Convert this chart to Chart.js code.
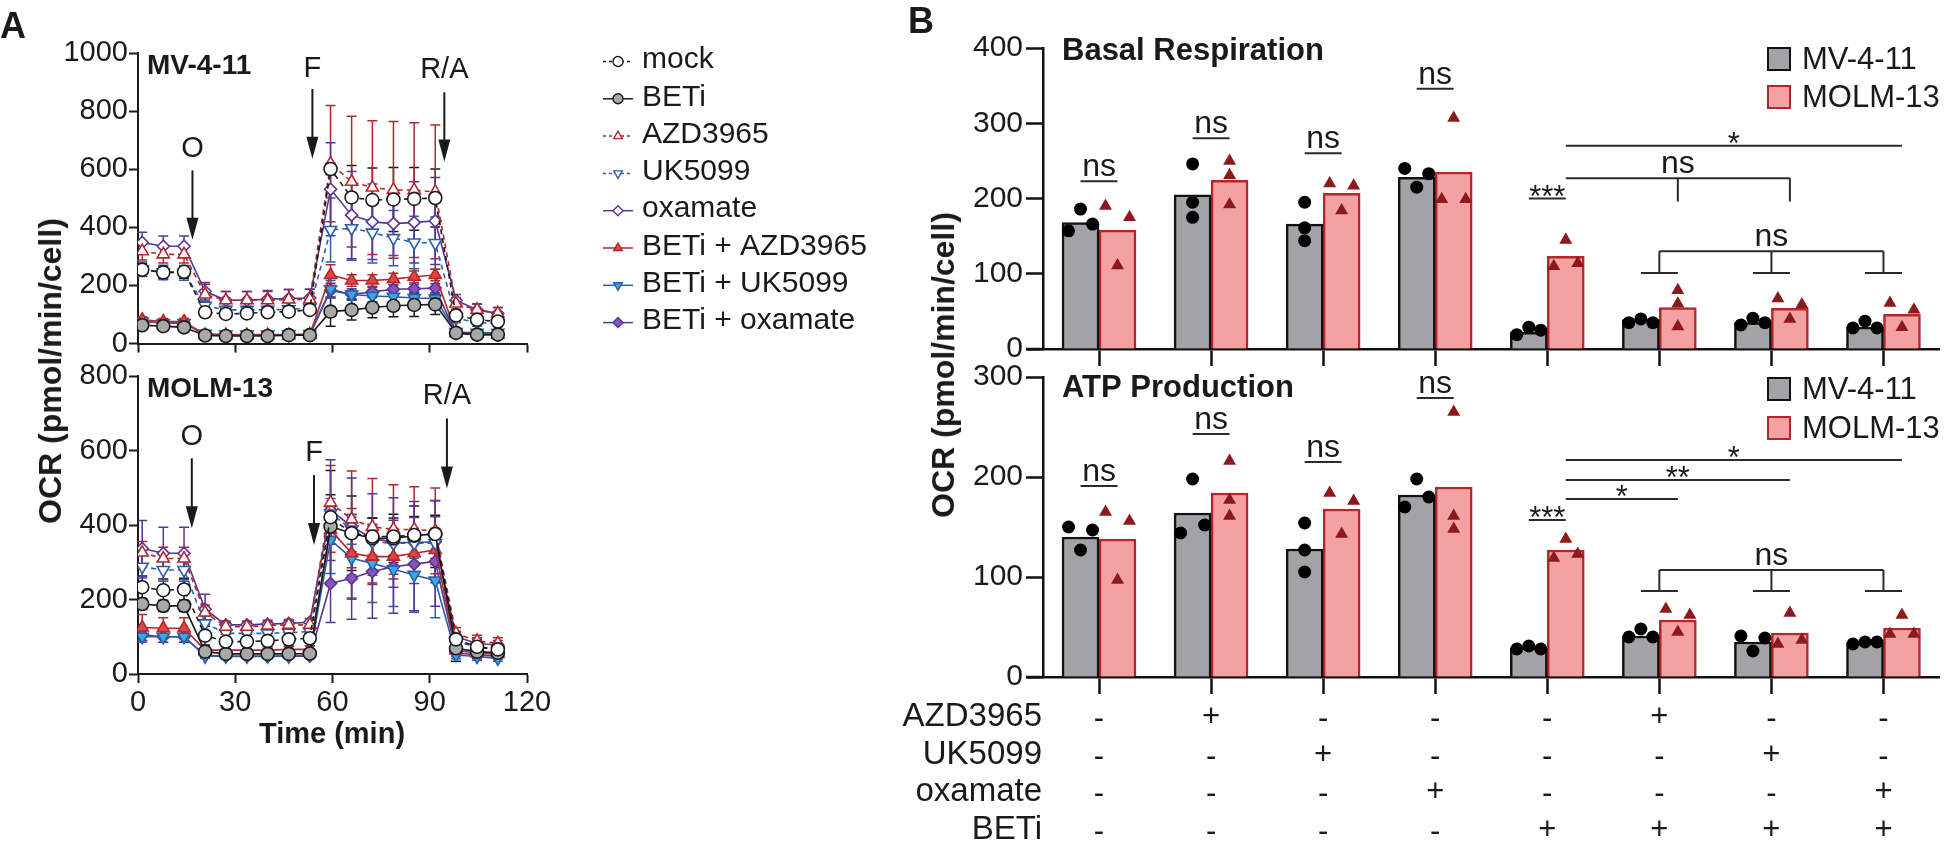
<!DOCTYPE html>
<html>
<head>
<meta charset="utf-8">
<script src="https://cdn.jsdelivr.net/npm/chart.js@4.4.1/dist/chart.umd.min.js"></script>
<style>
  html, body { margin: 0; padding: 0; background: #fff; }
  #page { position: relative; width: 1947px; height: 842px; overflow: hidden;
          font-family: 'Liberation Sans', Arial, Helvetica, sans-serif; color: #1a1a1a; }
  canvas { position: absolute; }
  .lbl { position: absolute; white-space: nowrap; line-height: 1; }
  .rot { transform: translate(-50%, -50%) rotate(-90deg); }
  .mid { transform: translate(-50%, -50%); }
</style>
</head>
<body>
<div id="page">
  <canvas id="a1" width="920" height="362" style="left:0;top:0"></canvas>
  <canvas id="a2" width="600" height="490" style="left:0;top:352px"></canvas>
  <canvas id="b1" width="1067" height="372" style="left:880px;top:0"></canvas>
  <canvas id="b2" width="1067" height="486" style="left:880px;top:356px"></canvas>

  <div class="lbl" style="left:0;top:8px;font-weight:bold;font-size:36px">A</div>
  <div class="lbl" style="left:908px;top:3px;font-weight:bold;font-size:36px">B</div>
  <div class="lbl rot" style="left:50px;top:371px;font-weight:bold;font-size:32px">OCR (pmol/min/cell)</div>
  <div class="lbl rot" style="left:943px;top:365px;font-weight:bold;font-size:32px">OCR (pmol/min/cell)</div>
  <div class="lbl mid" style="left:332px;top:733px;font-weight:bold;font-size:29px">Time (min)</div>
</div>

<script>
const F = "'Liberation Sans', Arial, Helvetica, sans-serif";
Chart.defaults.font.family = F;
Chart.defaults.color = '#1a1a1a';
Chart.defaults.animation = false;
Chart.defaults.responsive = false;
Chart.defaults.plugins.legend.display = false;
Chart.defaults.plugins.tooltip.enabled = false;

// ---- panel A: Seahorse time course (min) ----
const time = [1.3, 7.8, 14.2, 20.7, 27.1, 33.6, 40.0, 46.5, 53.0, 59.4, 65.9, 72.3, 78.8, 85.2, 91.7, 98.1, 104.6, 111.0];

// MV-4-11 mean OCR and error
const mvMock = [254, 245, 247, 108, 102, 104, 108, 110, 116, 601, 503, 494, 496, 498, 501, 97, 82, 76];
const mvMockSd = [22, 22, 22, 12, 10, 10, 10, 10, 10, 20, 110, 110, 110, 108, 100, 18, 15, 15];
const mvBeti = [63, 60, 56, 28, 26, 26, 26, 29, 29, 110, 116, 124, 130, 133, 135, 37, 31, 31];
const mvBetiSd = [12, 12, 12, 6, 6, 6, 6, 6, 6, 50, 35, 35, 38, 40, 35, 10, 10, 10];
const mvAzd = [318, 307, 307, 169, 149, 149, 149, 152, 152, 619, 557, 537, 529, 528, 522, 138, 116, 104];
const mvAzdSd = [30, 30, 30, 35, 30, 30, 30, 35, 35, 200, 225, 230, 235, 232, 230, 20, 20, 20];
const mvUk = [256, 245, 243, 130, 116, 116, 116, 118, 122, 391, 397, 382, 363, 348, 346, 88, 72, 70];
const mvUkSd = [25, 25, 25, 15, 12, 12, 12, 12, 12, 110, 110, 105, 95, 90, 90, 15, 12, 12];
const mvOxa = [348, 335, 335, 180, 149, 149, 153, 155, 157, 531, 442, 419, 413, 417, 422, 149, 116, 104];
const mvOxaSd = [35, 35, 35, 30, 30, 30, 30, 30, 30, 160, 150, 130, 110, 140, 150, 20, 20, 20];
const mvBetiAzd = [82, 76, 76, 29, 29, 29, 29, 29, 31, 236, 217, 217, 222, 230, 236, 37, 34, 31];
const mvBetiAzdSd = [10, 10, 10, 8, 8, 8, 8, 8, 8, 35, 20, 20, 20, 20, 20, 10, 10, 10];
const mvBetiUk = [76, 71, 71, 34, 31, 31, 31, 31, 33, 187, 169, 164, 161, 157, 155, 40, 37, 37];
const mvBetiUkSd = [10, 10, 10, 8, 8, 8, 8, 8, 8, 30, 20, 20, 20, 20, 20, 10, 10, 10];
const mvBetiOxa = [76, 71, 71, 31, 29, 29, 29, 29, 31, 183, 169, 178, 187, 189, 191, 34, 31, 31];
const mvBetiOxaSd = [10, 10, 10, 8, 8, 8, 8, 8, 8, 25, 15, 15, 15, 15, 15, 10, 10, 10];

// MOLM-13 mean OCR and error
const moMock = [233, 225, 227, 103, 87, 87, 89, 93, 96, 421, 378, 369, 369, 373, 376, 93, 73, 66];
const moMockSd = [30, 30, 30, 25, 20, 20, 20, 20, 20, 60, 50, 50, 50, 50, 50, 20, 20, 15];
const moBeti = [188, 183, 183, 60, 54, 54, 54, 54, 55, 396, 378, 364, 364, 371, 376, 69, 60, 57];
const moBetiSd = [15, 15, 15, 10, 8, 8, 8, 8, 8, 150, 100, 55, 65, 80, 90, 35, 15, 10];
const moAzd = [326, 310, 310, 165, 127, 127, 130, 132, 132, 460, 415, 395, 388, 388, 384, 109, 89, 82];
const moAzdSd = [30, 30, 30, 20, 12, 12, 12, 12, 12, 100, 130, 130, 120, 115, 115, 15, 15, 15];
const moUk = [288, 279, 279, 136, 109, 109, 109, 111, 114, 431, 388, 355, 351, 351, 351, 87, 73, 64];
const moUkSd = [30, 30, 30, 20, 12, 12, 12, 12, 12, 40, 40, 40, 40, 40, 40, 15, 15, 15];
const moOxa = [337, 324, 324, 174, 132, 132, 134, 136, 139, 440, 396, 364, 353, 353, 355, 100, 82, 78];
const moOxaSd = [75, 70, 70, 40, 10, 10, 10, 10, 10, 135, 130, 120, 120, 110, 110, 15, 15, 12];
const moBetiAzd = [125, 123, 123, 64, 64, 64, 64, 66, 66, 387, 324, 315, 315, 324, 333, 64, 55, 54];
const moBetiAzdSd = [35, 28, 28, 10, 10, 10, 10, 10, 10, 60, 120, 75, 60, 55, 40, 12, 10, 10];
const moBetiUk = [100, 100, 100, 48, 48, 48, 48, 48, 51, 360, 311, 297, 281, 266, 251, 51, 47, 42];
const moBetiUkSd = [15, 15, 15, 6, 6, 6, 6, 6, 6, 90, 110, 105, 100, 100, 100, 10, 10, 8];
const moBetiOxa = [105, 100, 100, 51, 47, 47, 47, 48, 48, 243, 257, 275, 288, 295, 302, 57, 51, 48];
const moBetiOxaSd = [15, 15, 15, 6, 6, 6, 6, 6, 6, 105, 110, 125, 125, 125, 120, 10, 10, 8];

// injection arrows (x in min, y in OCR units)
const mvInjections = [
  {label: 'O', x: 16.8, top: 596, tip: 357, labelY: 670},
  {label: 'F', x: 53.8, top: 876, tip: 636, labelY: 945},
  {label: 'R/A', x: 94.5, top: 865, tip: 627, labelY: 940}
];
const moInjections = [
  {label: 'O', x: 16.6, top: 579, tip: 391, labelY: 637},
  {label: 'F', x: 54.3, top: 534, tip: 346, labelY: 592},
  {label: 'R/A', x: 95.3, top: 686, tip: 498, labelY: 745}
];

// ---- panel B: per-condition bars and replicates ----
const groups = ['mock', 'AZD3965', 'UK5099', 'oxamate', 'BETi', 'BETi + AZD3965', 'BETi + UK5099', 'BETi + oxamate'];
const treatAzd = ['-', '+', '-', '-', '-', '+', '-', '-'];
const treatUk = ['-', '-', '+', '-', '-', '-', '+', '-'];
const treatOxa = ['-', '-', '-', '+', '-', '-', '-', '+'];
const treatBeti = ['-', '-', '-', '-', '+', '+', '+', '+'];

const basalMv = [168, 205, 166, 228, 22, 39, 35, 29];
const basalMolm = [158, 224, 207, 235, 123, 55, 54, 46];
const basalMvReps = [[157, 186, 166], [246, 195, 175], [195, 161, 144], [240, 215, 233], [19, 29, 25], [35, 40, 35], [32, 41, 35], [28, 37, 28]];
const basalMolmReps = [[190, 111, 175], [250, 231, 192], [220, 184, 217], [199, 307, 199], [110, 145, 114], [78, 60, 30], [67, 40, 59], [61, 29, 52]];

const atpMv = [140, 164, 128, 182, 29, 41, 35, 34];
const atpMolm = [138, 184, 168, 190, 127, 57, 44, 49];
const atpMvReps = [[150, 127, 147], [144, 198, 152], [154, 127, 105], [170, 198, 180], [28, 31, 28], [40, 48, 40], [41, 26, 39], [33, 35, 35]];
const atpMolmReps = [[165, 97, 156], [216, 177, 161], [184, 143, 176], [265, 161, 148], [119, 138, 123], [68, 45, 62], [33, 64, 37], [43, 62, 43]];

// significance: MV-4-11 vs MOLM-13 inside each group
const basalPairText = ['ns', 'ns', 'ns', 'ns', '***'];
const basalPairY = [223, 280, 260, 346, 200];
const atpPairText = ['ns', 'ns', 'ns', 'ns', '***'];
const atpPairY = [191, 243, 215, 279, 157];
// MOLM-13: BETi vs BETi + drug
const basalCompare = [
  {from: 4, to: 6, y: 227, drops: [5, 6], dropTo: 196, text: 'ns'},
  {from: 4, to: 7, y: 270, text: '*'}
];
const atpCompare = [
  {from: 4, to: 5, y: 178, text: '*'},
  {from: 4, to: 6, y: 197, text: '**'},
  {from: 4, to: 7, y: 217, text: '*'}
];
// BETi + drug groups against each other
const basalCombo = {groups: [5, 6, 7], y: 130, dropTo: 101, text: 'ns'};
const atpCombo = {groups: [5, 6, 7], y: 107, dropTo: 86, text: 'ns'};

// ---------------------------------------------------------------
const seriesStyle = [
  {label: 'mock', color: '#1a1a1a', fill: '#ffffff', dash: [5, 4], shape: 'circle', rot: 0},
  {label: 'BETi', color: '#1a1a1a', fill: '#a8a8a8', dash: [], shape: 'circle', rot: 0},
  {label: 'AZD3965', color: '#b3272d', fill: '#ffffff', dash: [5, 4], shape: 'triangle', rot: 0},
  {label: 'UK5099', color: '#2c5ea6', fill: '#ffffff', dash: [5, 4], shape: 'triangle', rot: 180},
  {label: 'oxamate', color: '#5a3592', fill: '#ffffff', dash: [], shape: 'rectRot', rot: 0},
  {label: 'BETi + AZD3965', color: '#b3272d', fill: '#e4443e', dash: [], shape: 'triangle', rot: 0},
  {label: 'BETi + UK5099', color: '#2c5ea6', fill: '#38a8e2', dash: [], shape: 'triangle', rot: 180},
  {label: 'BETi + oxamate', color: '#5a3592', fill: '#8456bd', dash: [], shape: 'rectRot', rot: 0}
];

function lineSet(style, values, sd) {
  return {
    label: style.label,
    data: values.map((v, i) => ({x: time[i], y: v})),
    sd: sd,
    borderColor: style.color,
    borderWidth: 1.6,
    borderDash: style.dash,
    pointStyle: style.shape,
    pointRotation: style.rot,
    pointRadius: style.shape === 'circle' ? 6.5 : (style.shape === 'rectRot' ? 6 : 7),
    pointBackgroundColor: style.fill,
    pointBorderColor: style.color,
    pointBorderWidth: 1.6,
    tension: 0
  };
}

const errorBars = {
  id: 'errorBars',
  beforeDatasetsDraw(chart) {
    const {ctx, scales: {x, y}} = chart;
    chart.data.datasets.forEach(ds => {
      if (!ds.sd) return;
      ctx.save();
      ctx.strokeStyle = ds.borderColor;
      ctx.lineWidth = 1.5;
      ds.data.forEach((p, i) => {
        const px = x.getPixelForValue(p.x);
        const top = y.getPixelForValue(p.y + ds.sd[i]);
        const bot = y.getPixelForValue(Math.max(0, p.y - ds.sd[i]));
        ctx.beginPath();
        ctx.moveTo(px, top); ctx.lineTo(px, bot);
        ctx.moveTo(px - 5, top); ctx.lineTo(px + 5, top);
        ctx.moveTo(px - 5, bot); ctx.lineTo(px + 5, bot);
        ctx.stroke();
      });
      ctx.restore();
    });
  }
};

function arrowsPlugin(items, title) {
  return {
    id: 'arrows',
    afterDatasetsDraw(chart) {
      const {ctx, chartArea, scales: {x, y}} = chart;
      ctx.save();
      ctx.fillStyle = '#1a1a1a';
      ctx.strokeStyle = '#1a1a1a';
      ctx.font = 'bold 28px ' + F;
      ctx.textAlign = 'left';
      ctx.textBaseline = 'alphabetic';
      ctx.fillText(title, chartArea.left + 9, chartArea.top + 21);
      items.forEach(a => {
        const px = x.getPixelForValue(a.x);
        const y0 = y.getPixelForValue(a.top);
        const y1 = y.getPixelForValue(a.tip);
        ctx.lineWidth = 2;
        ctx.beginPath();
        ctx.moveTo(px, y0); ctx.lineTo(px, y1 - 18);
        ctx.stroke();
        ctx.beginPath();
        ctx.moveTo(px - 6, y1 - 22); ctx.lineTo(px + 6, y1 - 22); ctx.lineTo(px, y1);
        ctx.closePath();
        ctx.fill();
        ctx.font = '29px ' + F;
        ctx.textAlign = 'center';
        ctx.textBaseline = 'middle';
        ctx.fillText(a.label, px, y.getPixelForValue(a.labelY));
      });
      ctx.restore();
    }
  };
}

const legendA = {
  id: 'legendA',
  afterDraw(chart) {
    const ctx = chart.ctx;
    chart.data.datasets.forEach((ds, i) => {
      const yy = 60 + i * 37.3;
      ctx.save();
      ctx.strokeStyle = ds.borderColor;
      ctx.lineWidth = 1.5;
      ctx.setLineDash(ds.borderDash.length ? [3, 3] : []);
      ctx.beginPath(); ctx.moveTo(603, yy + 1.5); ctx.lineTo(633, yy + 1.5); ctx.stroke();
      ctx.setLineDash([]);
      ctx.fillStyle = ds.pointBackgroundColor;
      ctx.strokeStyle = ds.pointBorderColor;
      ctx.lineWidth = 1.4;
      Chart.helpers.drawPoint(ctx, {pointStyle: ds.pointStyle, rotation: ds.pointRotation, radius: 5, borderWidth: 1.4}, 618, yy + 1.5);
      ctx.fillStyle = '#1a1a1a';
      ctx.font = '30px ' + F;
      ctx.textAlign = 'left';
      ctx.textBaseline = 'middle';
      ctx.fillText(ds.label, 642, yy);
      ctx.restore();
    });
  }
};

function lineAxes(yMax, showXLabels, xHeight) {
  const grid = {drawOnChartArea: false, tickLength: 9, tickWidth: 2, tickColor: '#1a1a1a'};
  const border = {color: '#1a1a1a', width: 2};
  return {
    x: {type: 'linear', min: 0, max: 120,
        ticks: {stepSize: 30, display: showXLabels, font: {size: 29}, padding: 3, maxRotation: 0},
        grid: grid, border: border, afterFit: s => { s.height = xHeight; }},
    y: {min: 0, max: yMax,
        ticks: {stepSize: 200, font: {size: 29}, padding: 1, callback: v => String(v)},
        grid: grid, border: border, afterFit: s => { s.width = 138; }}
  };
}

new Chart(document.getElementById('a1'), {
  type: 'line',
  data: {datasets: [
    lineSet(seriesStyle[0], mvMock, mvMockSd),
    lineSet(seriesStyle[1], mvBeti, mvBetiSd),
    lineSet(seriesStyle[2], mvAzd, mvAzdSd),
    lineSet(seriesStyle[3], mvUk, mvUkSd),
    lineSet(seriesStyle[4], mvOxa, mvOxaSd),
    lineSet(seriesStyle[5], mvBetiAzd, mvBetiAzdSd),
    lineSet(seriesStyle[6], mvBetiUk, mvBetiUkSd),
    lineSet(seriesStyle[7], mvBetiOxa, mvBetiOxaSd)
  ]},
  options: {
    layout: {padding: {top: 53, right: 393, bottom: 0, left: 0}},
    scales: lineAxes(1000, false, 13)
  },
  plugins: [errorBars, arrowsPlugin(mvInjections, 'MV-4-11'), legendA]
});

new Chart(document.getElementById('a2'), {
  type: 'line',
  data: {datasets: [
    lineSet(seriesStyle[0], moMock, moMockSd),
    lineSet(seriesStyle[1], moBeti, moBetiSd),
    lineSet(seriesStyle[2], moAzd, moAzdSd),
    lineSet(seriesStyle[3], moUk, moUkSd),
    lineSet(seriesStyle[4], moOxa, moOxaSd),
    lineSet(seriesStyle[5], moBetiAzd, moBetiAzdSd),
    lineSet(seriesStyle[6], moBetiUk, moBetiUkSd),
    lineSet(seriesStyle[7], moBetiOxa, moBetiOxaSd)
  ]},
  options: {
    layout: {padding: {top: 24, right: 73, bottom: 100, left: 0}},
    scales: lineAxes(800, true, 68)
  },
  plugins: [errorBars, arrowsPlugin(moInjections, 'MOLM-13')]
});

// ---- bar charts (linear x: group g sits at x = g) ----
const barSlot = 0.33;              // width of one bar in group units
const half = barSlot / 2;          // centre offset of each bar within its group
const jitter = 0.107;
// which replicate sets are spread sideways (1) or stacked in a column (0)
const basalMvSpread = [1, 0, 0, 1, 1, 1, 1, 1];
const basalMolmSpread = [1, 0, 1, 1, 1, 0, 1, 1];
const atpMvSpread = [1, 1, 0, 1, 1, 1, 1, 1];
const atpMolmSpread = [1, 0, 1, 0, 1, 1, 1, 1];

function barPoints(values, offset) {
  return values.map((v, g) => ({x: g + offset, y: v}));
}
function repPoints(reps, offset, spreadFlags) {
  const out = [];
  reps.forEach((r, g) => r.forEach((v, k) => {
    out.push({x: g + offset + (spreadFlags[g] ? (k - 1) * jitter : 0), y: v});
  }));
  return out;
}

function sigPlugin(pairText, pairY, compare, combo) {
  return {
    id: 'sig',
    afterDatasetsDraw(chart) {
      const {ctx, scales: {x, y}} = chart;
      const X = v => x.getPixelForValue(v);
      const Y = v => y.getPixelForValue(v);
      ctx.save();
      ctx.strokeStyle = '#2a2a2a';
      ctx.fillStyle = '#1a1a1a';
      ctx.lineWidth = 2;
      ctx.textAlign = 'center';
      ctx.textBaseline = 'alphabetic';
      const label = (t, xv, yp) => {
        if (t.indexOf('*') >= 0) { ctx.font = '31px ' + F; ctx.fillText(t, xv, yp + 8); }
        else { ctx.font = '32px ' + F; ctx.fillText(t, xv, yp - 5); }
      };
      const seg = (x1, y1, x2, y2) => { ctx.beginPath(); ctx.moveTo(x1, y1); ctx.lineTo(x2, y2); ctx.stroke(); };
      pairText.forEach((t, g) => {
        const yp = Y(pairY[g]);
        seg(X(g - half), yp, X(g + half), yp);
        label(t, X(g), yp);
      });
      compare.forEach(c => {
        const yp = Y(c.y);
        seg(X(c.from + half), yp, X(c.to + half), yp);
        (c.drops || []).forEach(d => seg(X(d + half), yp, X(d + half), Y(c.dropTo)));
        label(c.text, (X(c.from + half) + X(c.to + half)) / 2, yp);
      });
      const g0 = combo.groups[0], g1 = combo.groups[combo.groups.length - 1];
      const yc = Y(combo.y), yd = Y(combo.dropTo);
      seg(X(g0), yc, X(g1), yc);
      combo.groups.forEach(g => {
        seg(X(g), yc, X(g), yd);
        seg(X(g - half), yd, X(g + half), yd);
      });
      label(combo.text, (X(g0) + X(g1)) / 2, yc);
      ctx.restore();
    }
  };
}

function decorPlugin(title, titleY, legendY) {
  return {
    id: 'decor',
    afterDraw(chart) {
      const {ctx, chartArea} = chart;
      ctx.save();
      // axis overhang on the left
      ctx.strokeStyle = '#111';
      ctx.lineWidth = 2.5;
      ctx.beginPath(); ctx.moveTo(chartArea.left - 17, chartArea.bottom); ctx.lineTo(chartArea.left, chartArea.bottom); ctx.stroke();
      ctx.fillStyle = '#1a1a1a';
      ctx.font = 'bold 31px ' + F;
      ctx.textAlign = 'left';
      ctx.textBaseline = 'alphabetic';
      ctx.fillText(title, chartArea.left + 19, titleY);
      const bars = chart.data.datasets.filter(d => d.type === 'bar');
      bars.forEach((d, i) => {
        const yy = legendY[i];
        ctx.fillStyle = d.backgroundColor;
        ctx.strokeStyle = d.borderColor;
        ctx.lineWidth = 2;
        ctx.fillRect(888, yy - 11, 22, 22);
        ctx.strokeRect(888, yy - 11, 22, 22);
        ctx.fillStyle = '#1a1a1a';
        ctx.font = '31px ' + F;
        ctx.textBaseline = 'middle';
        ctx.fillText(d.label, 922, yy + 1);
      });
      ctx.restore();
    }
  };
}

const treatmentTable = {
  id: 'treatments',
  afterDraw(chart) {
    const {ctx, chartArea, scales: {x}} = chart;
    const rows = [['AZD3965', treatAzd], ['UK5099', treatUk], ['oxamate', treatOxa], ['BETi', treatBeti]];
    const rowY = [40, 78, 115, 153];
    ctx.save();
    ctx.fillStyle = '#1a1a1a';
    ctx.textBaseline = 'middle';
    rows.forEach((r, i) => {
      const yy = chartArea.bottom + rowY[i];
      ctx.font = '33px ' + F;
      ctx.textAlign = 'right';
      ctx.fillText(r[0], chartArea.left - 1, yy);
      ctx.font = '31px ' + F;
      ctx.textAlign = 'center';
      r[1].forEach((s, g) => ctx.fillText(s, x.getPixelForValue(g), yy + (s === '-' ? 2 : 0)));
    });
    ctx.restore();
  }
};

function barChart(canvasId, yMax, mv, molm, mvReps, molmReps, mvSpread, molmSpread, pad, xHeight, extraPlugins) {
  const grid = {drawOnChartArea: false, offset: false, tickLength: 17, tickWidth: 2.5, tickColor: '#111'};
  const border = {color: '#111', width: 2.5};
  const barOpts = {grouped: false, categoryPercentage: 1, barPercentage: 1, borderWidth: 2.5, borderSkipped: 'start'};
  return new Chart(document.getElementById(canvasId), {
    type: 'bar',
    data: {
      datasets: [
        {type: 'scatter', label: 'MV-4-11 replicates', data: repPoints(mvReps, -half, mvSpread),
         pointStyle: 'circle', pointRadius: 6.5, pointBackgroundColor: '#000', pointBorderColor: '#000', pointBorderWidth: 0},
        {type: 'scatter', label: 'MOLM-13 replicates', data: repPoints(molmReps, half, molmSpread),
         pointStyle: 'triangle', pointRadius: 7.5, pointBackgroundColor: '#8c1a1c', pointBorderColor: '#8c1a1c', pointBorderWidth: 0},
        Object.assign({type: 'bar', label: 'MV-4-11', data: barPoints(mv, -half),
         backgroundColor: '#a3a2a7', borderColor: '#111'}, barOpts),
        Object.assign({type: 'bar', label: 'MOLM-13', data: barPoints(molm, half),
         backgroundColor: '#f4a1a3', borderColor: '#b3262b'}, barOpts)
      ]
    },
    options: {
      layout: {padding: pad},
      scales: {
        x: {type: 'linear', min: -0.5, max: 7.5, offset: false,
            ticks: {display: false},
            afterBuildTicks: s => { s.ticks = groups.map((_, g) => ({value: g})); },
            grid: grid, border: border, afterFit: s => { s.height = xHeight; }},
        y: {min: 0, max: yMax, ticks: {stepSize: 100, font: {size: 30}, padding: 3},
            grid: grid, border: border, afterFit: s => { s.width = 163; }}
      }
    },
    plugins: extraPlugins
  });
}

barChart('b1', 400, basalMv, basalMolm, basalMvReps, basalMolmReps, basalMvSpread, basalMolmSpread,
  {top: 48, right: 4, bottom: 0, left: 0}, 23,
  [sigPlugin(basalPairText, basalPairY, basalCompare, basalCombo), decorPlugin('Basal Respiration', 60, [59, 97])]);

barChart('b2', 300, atpMv, atpMolm, atpMvReps, atpMolmReps, atpMvSpread, atpMolmSpread,
  {top: 20, right: 4, bottom: 145, left: 0}, 20,
  [sigPlugin(atpPairText, atpPairY, atpCompare, atpCombo), decorPlugin('ATP Production', 41, [33, 72]), treatmentTable]);
</script>
</body>
</html>
